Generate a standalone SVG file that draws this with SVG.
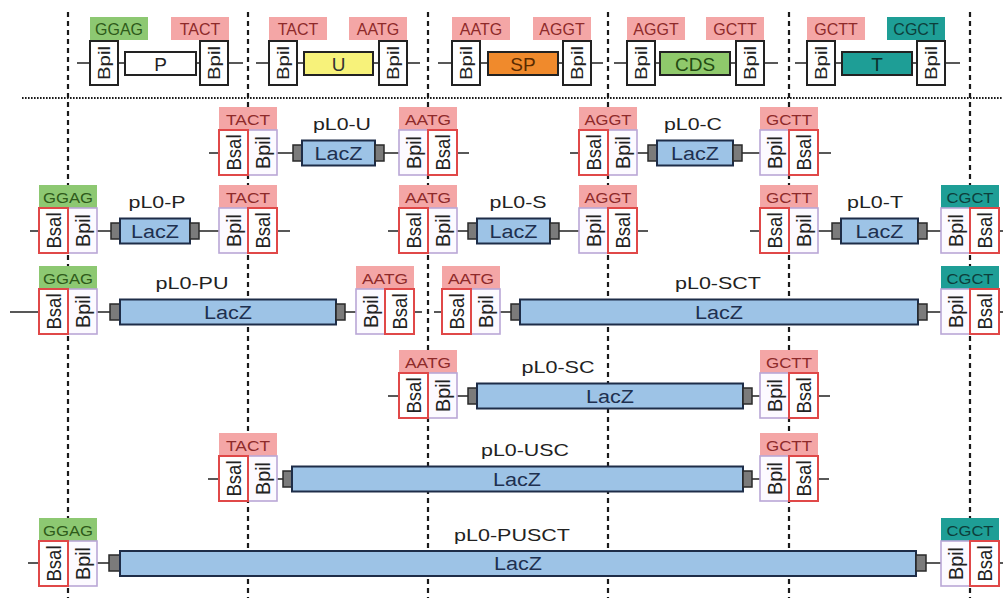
<svg xmlns="http://www.w3.org/2000/svg" width="1003" height="598" viewBox="0 0 1003 598">
<style>
text{font-family:"Liberation Sans",Arial,sans-serif;text-anchor:middle}
.dash{stroke:#1a1a1a;stroke-width:2.2;stroke-dasharray:5 4;fill:none}
.dot{stroke:#1a1a1a;stroke-width:2;stroke-dasharray:1.6 1.4;fill:none}
.bb{stroke:#222;stroke-width:1.5;fill:none}
.lp{fill:#F4A6A6}.lg{fill:#8DC872}.lt{fill:#1E9E96}
.tp{fill:#8E2A2A}.tg{fill:#2E5A1A}.tt{fill:#0D3E3B}
.lab{font-size:14px}
.tlab{font-size:16px}
.bsal{fill:#fff;stroke:#E04848;stroke-width:2}
.bpil{fill:#FCFAFF;stroke:#B9A7D6;stroke-width:1.6}
.bpt{fill:#fff;stroke:#222;stroke-width:2}
.rt{font-size:19.5px;fill:#222}
.rtt{font-size:17px;fill:#222}
.part{stroke:#222;stroke-width:2}
.pt{font-size:19px}
.lacz{fill:#9DC3E6;stroke:#1E2D48;stroke-width:2}
.cap{fill:#7b7b7b;stroke:#2a2a2a;stroke-width:1.5}
.lz{font-size:18px;fill:#1E3050}
.ttl{font-size:16.5px;fill:#222}
</style>
<g id="guides">
<line class="dash" x1="68" y1="12" x2="68" y2="598"/>
<line class="dash" x1="248" y1="12" x2="248" y2="598"/>
<line class="dash" x1="428" y1="12" x2="428" y2="598"/>
<line class="dash" x1="608" y1="12" x2="608" y2="598"/>
<line class="dash" x1="789" y1="12" x2="789" y2="598"/>
<line class="dash" x1="970" y1="12" x2="970" y2="598"/>
<line class="dot" x1="22" y1="98" x2="1003" y2="98"/>
</g>
<g id="connectors">
<path class="bb" d="M77 63H90M118 63H125M196 63H200M228 63H243"/>
<path class="bb" d="M256 63H269M297 63H304M373 63H379M407 63H420"/>
<path class="bb" d="M438 63H452M480 63H488M558 63H563M591 63H603"/>
<path class="bb" d="M614 63H627M655 63H660M730 63H736M764 63H778"/>
<path class="bb" d="M795 63H807M835 63H842M912 63H917M945 63H960"/>
<path class="bb" d="M209 153H219M277 153H293M384 153H399M457 153H469"/>
<path class="bb" d="M570 153H579M637 153H648M742 153H760M818 153H831"/>
<path class="bb" d="M30 231H39M97 231H111M199 231H219M277 231H290"/>
<path class="bb" d="M388 231H399M457 231H468M559 231H579M637 231H648"/>
<path class="bb" d="M750 231H760M818 231H832M927 231H941M999 231H1003"/>
<path class="bb" d="M10 312H39M97 312H110M345 312H356M414 312H422"/>
<path class="bb" d="M434 312H442M500 312H511M927 312H941M999 312H1003"/>
<path class="bb" d="M388 396H399M457 396H468M752 396H760M818 396H830"/>
<path class="bb" d="M208 479H219M277 479H283M752 479H760M818 479H829"/>
<path class="bb" d="M28 563H39M97 563H109M926 563H941M999 563H1003"/>
</g>
<g id="part-P">
<rect class="lg" x="90" y="17" width="58" height="23"/><text class="tlab tg" x="119" y="34.5">GGAG</text>
<rect class="lp" x="171" y="17" width="58" height="23"/><text class="tlab tp" x="200" y="34.5">TACT</text>
<rect class="bpt" x="90" y="41" width="28" height="44"/><text class="rtt" transform="translate(104,63) rotate(-90)" y="6" textLength="34" lengthAdjust="spacingAndGlyphs">Bpil</text>
<rect class="part" fill="#fff" x="125" y="52" width="71" height="23"/><text class="pt" x="160.5" y="70.5" fill="#222">P</text>
<rect class="bpt" x="200" y="41" width="28" height="44"/><text class="rtt" transform="translate(214,63) rotate(-90)" y="6" textLength="34" lengthAdjust="spacingAndGlyphs">Bpil</text>
</g>
<g id="part-U">
<rect class="lp" x="269" y="17" width="58" height="23"/><text class="tlab tp" x="298" y="34.5">TACT</text>
<rect class="lp" x="349" y="17" width="58" height="23"/><text class="tlab tp" x="378" y="34.5">AATG</text>
<rect class="bpt" x="269" y="41" width="28" height="44"/><text class="rtt" transform="translate(283,63) rotate(-90)" y="6" textLength="34" lengthAdjust="spacingAndGlyphs">Bpil</text>
<rect class="part" fill="#F7F27A" x="304" y="52" width="69" height="23"/><text class="pt" x="338.5" y="70.5" fill="#333">U</text>
<rect class="bpt" x="379" y="41" width="28" height="44"/><text class="rtt" transform="translate(393,63) rotate(-90)" y="6" textLength="34" lengthAdjust="spacingAndGlyphs">Bpil</text>
</g>
<g id="part-SP">
<rect class="lp" x="452" y="17" width="58" height="23"/><text class="tlab tp" x="481" y="34.5">AATG</text>
<rect class="lp" x="533" y="17" width="58" height="23"/><text class="tlab tp" x="562" y="34.5">AGGT</text>
<rect class="bpt" x="452" y="41" width="28" height="44"/><text class="rtt" transform="translate(466,63) rotate(-90)" y="6" textLength="34" lengthAdjust="spacingAndGlyphs">Bpil</text>
<rect class="part" fill="#F08A2C" x="488" y="52" width="70" height="23"/><text class="pt" x="523" y="70.5" fill="#5A2A00">SP</text>
<rect class="bpt" x="563" y="41" width="28" height="44"/><text class="rtt" transform="translate(577,63) rotate(-90)" y="6" textLength="34" lengthAdjust="spacingAndGlyphs">Bpil</text>
</g>
<g id="part-CDS">
<rect class="lp" x="627" y="17" width="58" height="23"/><text class="tlab tp" x="656" y="34.5">AGGT</text>
<rect class="lp" x="706" y="17" width="58" height="23"/><text class="tlab tp" x="735" y="34.5">GCTT</text>
<rect class="bpt" x="627" y="41" width="28" height="44"/><text class="rtt" transform="translate(641,63) rotate(-90)" y="6" textLength="34" lengthAdjust="spacingAndGlyphs">Bpil</text>
<rect class="part" fill="#8FC96B" x="660" y="52" width="70" height="23"/><text class="pt" x="695" y="70.5" fill="#234A12">CDS</text>
<rect class="bpt" x="736" y="41" width="28" height="44"/><text class="rtt" transform="translate(750,63) rotate(-90)" y="6" textLength="34" lengthAdjust="spacingAndGlyphs">Bpil</text>
</g>
<g id="part-T">
<rect class="lp" x="807" y="17" width="58" height="23"/><text class="tlab tp" x="836" y="34.5">GCTT</text>
<rect class="lt" x="887" y="17" width="58" height="23"/><text class="tlab tt" x="916" y="34.5">CGCT</text>
<rect class="bpt" x="807" y="41" width="28" height="44"/><text class="rtt" transform="translate(821,63) rotate(-90)" y="6" textLength="34" lengthAdjust="spacingAndGlyphs">Bpil</text>
<rect class="part" fill="#1E9E96" x="842" y="52" width="70" height="23"/><text class="pt" x="877" y="70.5" fill="#0A2E2C">T</text>
<rect class="bpt" x="917" y="41" width="28" height="44"/><text class="rtt" transform="translate(931,63) rotate(-90)" y="6" textLength="34" lengthAdjust="spacingAndGlyphs">Bpil</text>
</g>
<g id="pL0-U">
<text class="ttl" x="342" y="129.5" textLength="58" lengthAdjust="spacingAndGlyphs">pL0-U</text>
<rect class="lp" x="219" y="107" width="58" height="23"/><text class="lab tp" x="248" y="125" textLength="44" lengthAdjust="spacingAndGlyphs">TACT</text>
<rect class="bpil" x="248" y="130" width="29" height="45"/><text class="rt" transform="translate(262.5,152.5) rotate(-90)" y="7" textLength="33" lengthAdjust="spacingAndGlyphs">Bpil</text>
<rect class="bsal" x="219" y="130" width="29" height="45"/><text class="rt" transform="translate(233.5,152.5) rotate(-90)" y="7" textLength="36" lengthAdjust="spacingAndGlyphs">Bsal</text>
<rect class="cap" x="293" y="145" width="9" height="16"/><rect class="lacz" x="302" y="140.5" width="73" height="25"/><rect class="cap" x="375" y="145" width="9" height="16"/>
<text class="lz" x="338.5" y="159.5" textLength="48" lengthAdjust="spacingAndGlyphs">LacZ</text>
<rect class="lp" x="399" y="107" width="58" height="23"/><text class="lab tp" x="428" y="125" textLength="46" lengthAdjust="spacingAndGlyphs">AATG</text>
<rect class="bpil" x="399" y="130" width="29" height="45"/><text class="rt" transform="translate(413.5,152.5) rotate(-90)" y="7" textLength="33" lengthAdjust="spacingAndGlyphs">Bpil</text>
<rect class="bsal" x="428" y="130" width="29" height="45"/><text class="rt" transform="translate(442.5,152.5) rotate(-90)" y="7" textLength="36" lengthAdjust="spacingAndGlyphs">Bsal</text>
</g>
<g id="pL0-C">
<text class="ttl" x="693" y="129.5" textLength="58" lengthAdjust="spacingAndGlyphs">pL0-C</text>
<rect class="lp" x="579" y="107" width="58" height="23"/><text class="lab tp" x="608" y="125" textLength="47" lengthAdjust="spacingAndGlyphs">AGGT</text>
<rect class="bpil" x="608" y="130" width="29" height="45"/><text class="rt" transform="translate(622.5,152.5) rotate(-90)" y="7" textLength="33" lengthAdjust="spacingAndGlyphs">Bpil</text>
<rect class="bsal" x="579" y="130" width="29" height="45"/><text class="rt" transform="translate(593.5,152.5) rotate(-90)" y="7" textLength="36" lengthAdjust="spacingAndGlyphs">Bsal</text>
<rect class="cap" x="648" y="145" width="9" height="16"/><rect class="lacz" x="657" y="140.5" width="76" height="25"/><rect class="cap" x="733" y="145" width="9" height="16"/>
<text class="lz" x="695" y="159.5" textLength="48" lengthAdjust="spacingAndGlyphs">LacZ</text>
<rect class="lp" x="760" y="107" width="58" height="23"/><text class="lab tp" x="789" y="125" textLength="46" lengthAdjust="spacingAndGlyphs">GCTT</text>
<rect class="bpil" x="760" y="130" width="29" height="45"/><text class="rt" transform="translate(774.5,152.5) rotate(-90)" y="7" textLength="33" lengthAdjust="spacingAndGlyphs">Bpil</text>
<rect class="bsal" x="789" y="130" width="29" height="45"/><text class="rt" transform="translate(803.5,152.5) rotate(-90)" y="7" textLength="36" lengthAdjust="spacingAndGlyphs">Bsal</text>
</g>
<g id="pL0-P">
<text class="ttl" x="157" y="207.5" textLength="57" lengthAdjust="spacingAndGlyphs">pL0-P</text>
<rect class="lg" x="39" y="185" width="58" height="23"/><text class="lab tg" x="68" y="203" textLength="50" lengthAdjust="spacingAndGlyphs">GGAG</text>
<rect class="bpil" x="68" y="208" width="29" height="45"/><text class="rt" transform="translate(82.5,230.5) rotate(-90)" y="7" textLength="33" lengthAdjust="spacingAndGlyphs">Bpil</text>
<rect class="bsal" x="39" y="208" width="29" height="45"/><text class="rt" transform="translate(53.5,230.5) rotate(-90)" y="7" textLength="36" lengthAdjust="spacingAndGlyphs">Bsal</text>
<rect class="cap" x="111" y="223" width="9" height="16"/><rect class="lacz" x="120" y="218.5" width="70" height="25"/><rect class="cap" x="190" y="223" width="9" height="16"/>
<text class="lz" x="155" y="237.5" textLength="48" lengthAdjust="spacingAndGlyphs">LacZ</text>
<rect class="lp" x="219" y="185" width="58" height="23"/><text class="lab tp" x="248" y="203" textLength="44" lengthAdjust="spacingAndGlyphs">TACT</text>
<rect class="bpil" x="219" y="208" width="29" height="45"/><text class="rt" transform="translate(233.5,230.5) rotate(-90)" y="7" textLength="33" lengthAdjust="spacingAndGlyphs">Bpil</text>
<rect class="bsal" x="248" y="208" width="29" height="45"/><text class="rt" transform="translate(262.5,230.5) rotate(-90)" y="7" textLength="36" lengthAdjust="spacingAndGlyphs">Bsal</text>
</g>
<g id="pL0-S">
<text class="ttl" x="518" y="207.5" textLength="57" lengthAdjust="spacingAndGlyphs">pL0-S</text>
<rect class="lp" x="399" y="185" width="58" height="23"/><text class="lab tp" x="428" y="203" textLength="46" lengthAdjust="spacingAndGlyphs">AATG</text>
<rect class="bpil" x="428" y="208" width="29" height="45"/><text class="rt" transform="translate(442.5,230.5) rotate(-90)" y="7" textLength="33" lengthAdjust="spacingAndGlyphs">Bpil</text>
<rect class="bsal" x="399" y="208" width="29" height="45"/><text class="rt" transform="translate(413.5,230.5) rotate(-90)" y="7" textLength="36" lengthAdjust="spacingAndGlyphs">Bsal</text>
<rect class="cap" x="468" y="223" width="9" height="16"/><rect class="lacz" x="477" y="218.5" width="73" height="25"/><rect class="cap" x="550" y="223" width="9" height="16"/>
<text class="lz" x="513.5" y="237.5" textLength="48" lengthAdjust="spacingAndGlyphs">LacZ</text>
<rect class="lp" x="579" y="185" width="58" height="23"/><text class="lab tp" x="608" y="203" textLength="47" lengthAdjust="spacingAndGlyphs">AGGT</text>
<rect class="bpil" x="579" y="208" width="29" height="45"/><text class="rt" transform="translate(593.5,230.5) rotate(-90)" y="7" textLength="33" lengthAdjust="spacingAndGlyphs">Bpil</text>
<rect class="bsal" x="608" y="208" width="29" height="45"/><text class="rt" transform="translate(622.5,230.5) rotate(-90)" y="7" textLength="36" lengthAdjust="spacingAndGlyphs">Bsal</text>
</g>
<g id="pL0-T">
<text class="ttl" x="875" y="207.5" textLength="56" lengthAdjust="spacingAndGlyphs">pL0-T</text>
<rect class="lp" x="760" y="185" width="58" height="23"/><text class="lab tp" x="789" y="203" textLength="46" lengthAdjust="spacingAndGlyphs">GCTT</text>
<rect class="bpil" x="789" y="208" width="29" height="45"/><text class="rt" transform="translate(803.5,230.5) rotate(-90)" y="7" textLength="33" lengthAdjust="spacingAndGlyphs">Bpil</text>
<rect class="bsal" x="760" y="208" width="29" height="45"/><text class="rt" transform="translate(774.5,230.5) rotate(-90)" y="7" textLength="36" lengthAdjust="spacingAndGlyphs">Bsal</text>
<rect class="cap" x="832" y="223" width="9" height="16"/><rect class="lacz" x="841" y="218.5" width="77" height="25"/><rect class="cap" x="918" y="223" width="9" height="16"/>
<text class="lz" x="879.5" y="237.5" textLength="48" lengthAdjust="spacingAndGlyphs">LacZ</text>
<rect class="lt" x="941" y="185" width="58" height="23"/><text class="lab tt" x="970" y="203" textLength="47" lengthAdjust="spacingAndGlyphs">CGCT</text>
<rect class="bpil" x="941" y="208" width="29" height="45"/><text class="rt" transform="translate(955.5,230.5) rotate(-90)" y="7" textLength="33" lengthAdjust="spacingAndGlyphs">Bpil</text>
<rect class="bsal" x="970" y="208" width="29" height="45"/><text class="rt" transform="translate(984.5,230.5) rotate(-90)" y="7" textLength="36" lengthAdjust="spacingAndGlyphs">Bsal</text>
</g>
<g id="pL0-PU">
<text class="ttl" x="192" y="288.5" textLength="73" lengthAdjust="spacingAndGlyphs">pL0-PU</text>
<rect class="lg" x="39" y="266" width="58" height="23"/><text class="lab tg" x="68" y="284" textLength="50" lengthAdjust="spacingAndGlyphs">GGAG</text>
<rect class="bpil" x="68" y="289" width="29" height="45"/><text class="rt" transform="translate(82.5,311.5) rotate(-90)" y="7" textLength="33" lengthAdjust="spacingAndGlyphs">Bpil</text>
<rect class="bsal" x="39" y="289" width="29" height="45"/><text class="rt" transform="translate(53.5,311.5) rotate(-90)" y="7" textLength="36" lengthAdjust="spacingAndGlyphs">Bsal</text>
<rect class="cap" x="110" y="304" width="10" height="16"/><rect class="lacz" x="120" y="299.5" width="216" height="25"/><rect class="cap" x="336" y="304" width="9" height="16"/>
<text class="lz" x="228" y="318.5" textLength="48" lengthAdjust="spacingAndGlyphs">LacZ</text>
<rect class="lp" x="356" y="266" width="58" height="23"/><text class="lab tp" x="385" y="284" textLength="46" lengthAdjust="spacingAndGlyphs">AATG</text>
<rect class="bpil" x="356" y="289" width="29" height="45"/><text class="rt" transform="translate(370.5,311.5) rotate(-90)" y="7" textLength="33" lengthAdjust="spacingAndGlyphs">Bpil</text>
<rect class="bsal" x="385" y="289" width="29" height="45"/><text class="rt" transform="translate(399.5,311.5) rotate(-90)" y="7" textLength="36" lengthAdjust="spacingAndGlyphs">Bsal</text>
</g>
<g id="pL0-SCT">
<text class="ttl" x="718" y="288.5" textLength="86" lengthAdjust="spacingAndGlyphs">pL0-SCT</text>
<rect class="lp" x="442" y="266" width="58" height="23"/><text class="lab tp" x="471" y="284" textLength="46" lengthAdjust="spacingAndGlyphs">AATG</text>
<rect class="bpil" x="471" y="289" width="29" height="45"/><text class="rt" transform="translate(485.5,311.5) rotate(-90)" y="7" textLength="33" lengthAdjust="spacingAndGlyphs">Bpil</text>
<rect class="bsal" x="442" y="289" width="29" height="45"/><text class="rt" transform="translate(456.5,311.5) rotate(-90)" y="7" textLength="36" lengthAdjust="spacingAndGlyphs">Bsal</text>
<rect class="cap" x="511" y="304" width="9" height="16"/><rect class="lacz" x="520" y="299.5" width="398" height="25"/><rect class="cap" x="918" y="304" width="9" height="16"/>
<text class="lz" x="719" y="318.5" textLength="48" lengthAdjust="spacingAndGlyphs">LacZ</text>
<rect class="lt" x="941" y="266" width="58" height="23"/><text class="lab tt" x="970" y="284" textLength="47" lengthAdjust="spacingAndGlyphs">CGCT</text>
<rect class="bpil" x="941" y="289" width="29" height="45"/><text class="rt" transform="translate(955.5,311.5) rotate(-90)" y="7" textLength="33" lengthAdjust="spacingAndGlyphs">Bpil</text>
<rect class="bsal" x="970" y="289" width="29" height="45"/><text class="rt" transform="translate(984.5,311.5) rotate(-90)" y="7" textLength="36" lengthAdjust="spacingAndGlyphs">Bsal</text>
</g>
<g id="pL0-SC">
<text class="ttl" x="558" y="372.5" textLength="73" lengthAdjust="spacingAndGlyphs">pL0-SC</text>
<rect class="lp" x="399" y="350" width="58" height="23"/><text class="lab tp" x="428" y="368" textLength="46" lengthAdjust="spacingAndGlyphs">AATG</text>
<rect class="bpil" x="428" y="373" width="29" height="45"/><text class="rt" transform="translate(442.5,395.5) rotate(-90)" y="7" textLength="33" lengthAdjust="spacingAndGlyphs">Bpil</text>
<rect class="bsal" x="399" y="373" width="29" height="45"/><text class="rt" transform="translate(413.5,395.5) rotate(-90)" y="7" textLength="36" lengthAdjust="spacingAndGlyphs">Bsal</text>
<rect class="cap" x="468" y="388" width="9" height="16"/><rect class="lacz" x="477" y="383.5" width="266" height="25"/><rect class="cap" x="743" y="388" width="9" height="16"/>
<text class="lz" x="610" y="402.5" textLength="48" lengthAdjust="spacingAndGlyphs">LacZ</text>
<rect class="lp" x="760" y="350" width="58" height="23"/><text class="lab tp" x="789" y="368" textLength="46" lengthAdjust="spacingAndGlyphs">GCTT</text>
<rect class="bpil" x="760" y="373" width="29" height="45"/><text class="rt" transform="translate(774.5,395.5) rotate(-90)" y="7" textLength="33" lengthAdjust="spacingAndGlyphs">Bpil</text>
<rect class="bsal" x="789" y="373" width="29" height="45"/><text class="rt" transform="translate(803.5,395.5) rotate(-90)" y="7" textLength="36" lengthAdjust="spacingAndGlyphs">Bsal</text>
</g>
<g id="pL0-USC">
<text class="ttl" x="525" y="455.5" textLength="88" lengthAdjust="spacingAndGlyphs">pL0-USC</text>
<rect class="lp" x="219" y="433" width="58" height="23"/><text class="lab tp" x="248" y="451" textLength="44" lengthAdjust="spacingAndGlyphs">TACT</text>
<rect class="bpil" x="248" y="456" width="29" height="45"/><text class="rt" transform="translate(262.5,478.5) rotate(-90)" y="7" textLength="33" lengthAdjust="spacingAndGlyphs">Bpil</text>
<rect class="bsal" x="219" y="456" width="29" height="45"/><text class="rt" transform="translate(233.5,478.5) rotate(-90)" y="7" textLength="36" lengthAdjust="spacingAndGlyphs">Bsal</text>
<rect class="cap" x="283" y="471" width="9" height="16"/><rect class="lacz" x="292" y="466.5" width="451" height="25"/><rect class="cap" x="743" y="471" width="9" height="16"/>
<text class="lz" x="517" y="485.5" textLength="48" lengthAdjust="spacingAndGlyphs">LacZ</text>
<rect class="lp" x="760" y="433" width="58" height="23"/><text class="lab tp" x="789" y="451" textLength="46" lengthAdjust="spacingAndGlyphs">GCTT</text>
<rect class="bpil" x="760" y="456" width="29" height="45"/><text class="rt" transform="translate(774.5,478.5) rotate(-90)" y="7" textLength="33" lengthAdjust="spacingAndGlyphs">Bpil</text>
<rect class="bsal" x="789" y="456" width="29" height="45"/><text class="rt" transform="translate(803.5,478.5) rotate(-90)" y="7" textLength="36" lengthAdjust="spacingAndGlyphs">Bsal</text>
</g>
<g id="pL0-PUSCT">
<text class="ttl" x="512" y="540.5" textLength="116" lengthAdjust="spacingAndGlyphs">pL0-PUSCT</text>
<rect class="lg" x="39" y="518" width="58" height="23"/><text class="lab tg" x="68" y="536" textLength="50" lengthAdjust="spacingAndGlyphs">GGAG</text>
<rect class="bpil" x="68" y="541" width="29" height="45"/><text class="rt" transform="translate(82.5,563.5) rotate(-90)" y="7" textLength="33" lengthAdjust="spacingAndGlyphs">Bpil</text>
<rect class="bsal" x="39" y="541" width="29" height="45"/><text class="rt" transform="translate(53.5,563.5) rotate(-90)" y="7" textLength="36" lengthAdjust="spacingAndGlyphs">Bsal</text>
<rect class="cap" x="109" y="555" width="11" height="16"/><rect class="lacz" x="120" y="551" width="796" height="25"/><rect class="cap" x="916" y="555" width="10" height="16"/>
<text class="lz" x="518" y="570" textLength="48" lengthAdjust="spacingAndGlyphs">LacZ</text>
<rect class="lt" x="941" y="518" width="58" height="23"/><text class="lab tt" x="970" y="536" textLength="47" lengthAdjust="spacingAndGlyphs">CGCT</text>
<rect class="bpil" x="941" y="541" width="29" height="45"/><text class="rt" transform="translate(955.5,563.5) rotate(-90)" y="7" textLength="33" lengthAdjust="spacingAndGlyphs">Bpil</text>
<rect class="bsal" x="970" y="541" width="29" height="45"/><text class="rt" transform="translate(984.5,563.5) rotate(-90)" y="7" textLength="36" lengthAdjust="spacingAndGlyphs">Bsal</text>
</g>
</svg>
